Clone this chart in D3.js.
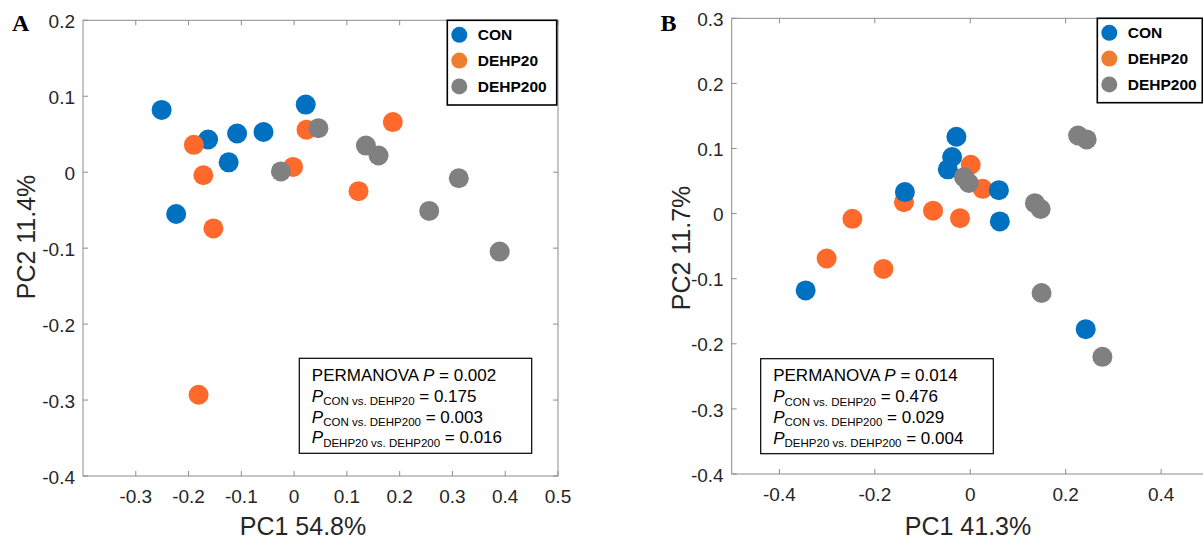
<!DOCTYPE html>
<html lang="en">
<head>
<meta charset="UTF-8">
<title>PCoA panels</title>
<script src="https://d3js.org/d3.v7.min.js"></script>
<style>
  body { margin: 0; background: #fff; }
  svg { display: block; font-family: "Liberation Sans", Arial, sans-serif; }
</style>
</head>
<body>
<div id="chart"></div>
<script>
// groups
const groups = ["CON", "DEHP20", "DEHP200"];

// panel A points [PC1, PC2]
const conA = [[-0.251, 0.082], [-0.163, 0.043], [-0.108, 0.051], [-0.058, 0.053],
              [-0.124, 0.013], [-0.2235, -0.055], [0.022, 0.089]];
const dehp20A = [[-0.19, 0.036], [-0.172, -0.004], [-0.153, -0.074], [-0.002, 0.007],
                 [0.0235, 0.056], [0.187, 0.066], [0.122, -0.025], [-0.181, -0.293]];
const dehp200A = [[-0.025, 0.001], [0.046, 0.058], [0.136, 0.035], [0.160, 0.022],
                  [0.312, -0.008], [0.256, -0.051], [0.3895, -0.1045]];

// panel B points [PC1, PC2]
const conB = [[-0.137, 0.033], [-0.345, -0.118], [-0.029, 0.118], [-0.038, 0.087],
              [-0.047, 0.068], [0.060, 0.036], [0.062, -0.012], [0.242, -0.1775]];
const dehp20B = [[-0.139, 0.0175], [-0.247, -0.008], [-0.301, -0.069], [-0.182, -0.085],
                 [-0.078, 0.0045], [-0.0215, -0.007], [0.001, 0.075], [0.026, 0.038]];
const dehp200B = [[-0.013, 0.056], [-0.003, 0.047], [0.1355, 0.016], [0.1475, 0.007],
                  [0.226, 0.12], [0.244, 0.114], [0.1495, -0.122], [0.277, -0.22]];

// ticks
const xTicksA = [-0.3, -0.2, -0.1, 0, 0.1, 0.2, 0.3, 0.4, 0.5];
const yTicksA = [-0.4, -0.3, -0.2, -0.1, 0, 0.1, 0.2];
const xTicksB = [-0.4, -0.2, 0, 0.2, 0.4];
const yTicksB = [-0.4, -0.3, -0.2, -0.1, 0, 0.1, 0.2, 0.3];

// PERMANOVA results
const statsA = { overall: "0.002", conVs20: "0.175", conVs200: "0.003", d20Vs200: "0.016" };
const statsB = { overall: "0.014", conVs20: "0.476", conVs200: "0.029", d20Vs200: "0.004" };

const dotColor = { "CON": "#0070c0", "DEHP20": "#ff6a2c", "DEHP200": "#808080" };
const legendColor = { "CON": "#0070c0", "DEHP20": "#ed7d31", "DEHP200": "#808080" };

const svg = d3.select("#chart").append("svg")
  .attr("width", 1203).attr("height", 540);

function fmt(d) { return d === 0 ? "0" : String(d); }

function drawPanel(p) {
  const x = d3.scaleLinear().domain(p.xDomain).range([p.left, p.right]);
  const y = d3.scaleLinear().domain(p.yDomain).range([p.bottom, p.top]);
  const g = svg.append("g");

  // box
  g.append("rect")
    .attr("x", p.left).attr("y", p.top)
    .attr("width", p.right - p.left).attr("height", p.bottom - p.top)
    .attr("fill", "none").attr("stroke", "#8c8c8c").attr("stroke-width", 1);

  // x ticks (bottom + top, inward)
  const xt = g.append("g").selectAll("g").data(p.xTicks).join("g");
  xt.append("line")
    .attr("x1", d => x(d)).attr("x2", d => x(d))
    .attr("y1", p.bottom).attr("y2", p.bottom - 5)
    .attr("stroke", "#8c8c8c");
  xt.append("line")
    .attr("x1", d => x(d)).attr("x2", d => x(d))
    .attr("y1", p.top).attr("y2", p.top + 5)
    .attr("stroke", "#8c8c8c");
  xt.append("text")
    .attr("x", d => x(d)).attr("y", p.bottom + 27)
    .attr("text-anchor", "middle")
    .attr("font-size", 19).attr("fill", "#262626")
    .text(fmt);

  // y ticks (left + right, inward)
  const yt = g.append("g").selectAll("g").data(p.yTicks).join("g");
  yt.append("line")
    .attr("x1", p.left).attr("x2", p.left + 5)
    .attr("y1", d => y(d)).attr("y2", d => y(d))
    .attr("stroke", "#8c8c8c");
  yt.append("line")
    .attr("x1", p.right).attr("x2", p.right - 5)
    .attr("y1", d => y(d)).attr("y2", d => y(d))
    .attr("stroke", "#8c8c8c");
  yt.append("text")
    .attr("x", p.left - 8).attr("y", d => y(d) + 1)
    .attr("dy", "0.35em")
    .attr("text-anchor", "end")
    .attr("font-size", 19).attr("fill", "#262626")
    .text(fmt);

  // axis titles
  g.append("text")
    .attr("x", p.xTitleX).attr("y", 535)
    .attr("text-anchor", "middle")
    .attr("font-size", 25).attr("fill", "#262626")
    .text(p.xTitle);
  g.append("text")
    .attr("transform", `translate(${p.yTitleX},${p.yTitleY}) rotate(-90)`)
    .attr("text-anchor", "middle")
    .attr("font-size", 25).attr("fill", "#262626")
    .text(p.yTitle);

  // panel letter
  g.append("text")
    .attr("x", p.letterX).attr("y", 31)
    .attr("font-family", "'Liberation Serif', 'Times New Roman', serif")
    .attr("font-weight", "bold").attr("font-size", 24)
    .text(p.letter);

  // points
  p.order.forEach(k => {
    g.append("g").selectAll("circle")
      .data(p.series[k])
      .join("circle")
      .attr("cx", d => x(d[0]))
      .attr("cy", d => y(d[1]))
      .attr("r", 10)
      .attr("fill", dotColor[k]);
  });

  // stats box
  const sb = p.statBox;
  g.append("rect")
    .attr("x", sb.x).attr("y", sb.y).attr("width", sb.w).attr("height", sb.h)
    .attr("fill", "#fff").attr("stroke", "#000").attr("stroke-width", 1.2);
  const tx = sb.x + 12.5;
  const t0 = g.append("text").attr("x", tx).attr("y", sb.y + 22.5)
    .attr("font-size", 17).attr("fill", "#000");
  t0.append("tspan").text("PERMANOVA ");
  t0.append("tspan").attr("font-style", "italic").text("P");
  t0.append("tspan").text(" = " + p.stats.overall);
  const rows = [["CON vs. DEHP20", p.stats.conVs20],
                ["CON vs. DEHP200", p.stats.conVs200],
                ["DEHP20 vs. DEHP200", p.stats.d20Vs200]];
  rows.forEach((r, i) => {
    const t = g.append("text").attr("x", tx).attr("y", sb.y + 43.5 + i * 20.7)
      .attr("font-size", 17).attr("fill", "#000");
    t.append("tspan").attr("font-style", "italic").text("P");
    t.append("tspan").attr("font-size", 11.5).attr("dy", 3.5).text(r[0]);
    t.append("tspan").attr("dy", -3.5).text(" = " + r[1]);
  });

  // legend
  const lg = p.legend;
  g.append("rect")
    .attr("x", lg.x).attr("y", lg.y).attr("width", lg.w).attr("height", lg.h)
    .attr("fill", "#fff").attr("stroke", "#000").attr("stroke-width", 1.6);
  groups.forEach((k, i) => {
    const cy = lg.y + 14.5 + i * 25.8;
    g.append("circle").attr("cx", lg.x + 12).attr("cy", cy).attr("r", 8)
      .attr("fill", legendColor[k]);
    g.append("text").attr("x", lg.x + 30.5).attr("y", cy + 5.5)
      .attr("font-size", 15.5).attr("font-weight", "bold").attr("fill", "#000")
      .text(k);
  });
}

drawPanel({
  letter: "A", letterX: 12,
  left: 83, right: 558, top: 20.3, bottom: 476,
  xDomain: [-0.4, 0.5], yDomain: [-0.4, 0.2],
  xTicks: xTicksA, yTicks: yTicksA,
  xTitle: "PC1 54.8%", xTitleX: 303,
  yTitle: "PC2 11.4%", yTitleX: 35, yTitleY: 237,
  series: { "CON": conA, "DEHP20": dehp20A, "DEHP200": dehp200A },
  order: ["CON", "DEHP20", "DEHP200"],
  stats: statsA,
  statBox: { x: 299.3, y: 358.3, w: 232.4, h: 95 },
  legend: { x: 447.3, y: 20.3, w: 109.4, h: 84.7 }
});

drawPanel({
  letter: "B", letterX: 660.5,
  left: 731.7, right: 1208.8, top: 18.3, bottom: 474,
  xDomain: [-0.5, 0.5], yDomain: [-0.4, 0.3],
  xTicks: xTicksB, yTicks: yTicksB,
  xTitle: "PC1 41.3%", xTitleX: 968,
  yTitle: "PC2 11.7%", yTitleX: 690, yTitleY: 248,
  series: { "CON": conB, "DEHP20": dehp20B, "DEHP200": dehp200B },
  order: ["DEHP20", "CON", "DEHP200"],
  stats: statsB,
  statBox: { x: 760.7, y: 358.7, w: 232.6, h: 95 },
  legend: { x: 1097.3, y: 18.3, w: 105, h: 84.4 }
});
</script>
</body>
</html>
